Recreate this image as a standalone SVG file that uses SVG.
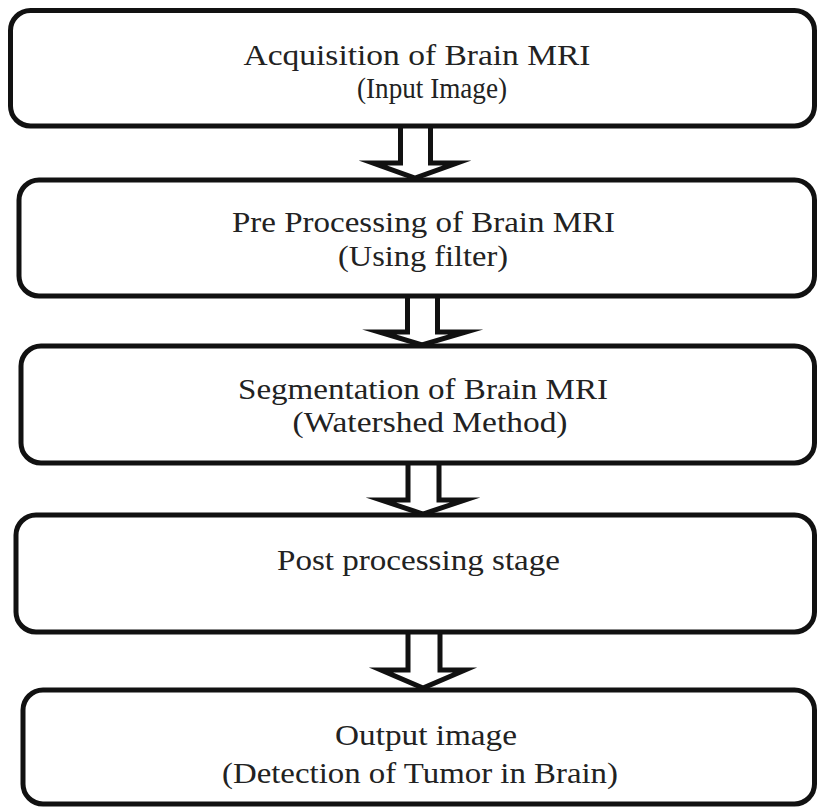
<svg xmlns="http://www.w3.org/2000/svg" width="818" height="807" viewBox="0 0 818 807">
  <style>
    .box { fill: none; stroke: #111; stroke-width: 5; }
    .arrow { fill: #fff; stroke: #111; stroke-width: 5; stroke-linejoin: miter; stroke-miterlimit: 10; }
    .t { font-family: "Liberation Serif", "Times New Roman", serif; font-size: 30px; fill: #222; text-anchor: middle; }
  </style>
  <rect x="0" y="0" width="818" height="807" fill="#fff"/>
  <g id="connectors">
    <path class="arrow" d="M400.5,127 V163 H373 L415,178 L457,163 H430.5 V127"/>
    <path class="arrow" d="M407.5,297 V332 H379 L422,345 L466,332 H437.5 V297"/>
    <path class="arrow" d="M408,464 V500 H381 L423,514 L465,500 H439 V464"/>
    <path class="arrow" d="M408,633 V670 H381 L423,688 L465,670 H440 V633"/>
  </g>
  <g id="node1">
    <rect class="box" x="10.5" y="10.5" width="804" height="115.5" rx="20"/>
    <text class="t" x="417" y="65" textLength="347" lengthAdjust="spacingAndGlyphs">Acquisition of Brain MRI</text>
    <text class="t" x="432" y="98" textLength="150" lengthAdjust="spacingAndGlyphs">(Input Image)</text>
  </g>
  <g id="node2">
    <rect class="box" x="19" y="180" width="795.5" height="116" rx="20"/>
    <text class="t" x="423.5" y="232" textLength="383" lengthAdjust="spacingAndGlyphs">Pre Processing of Brain MRI</text>
    <text class="t" x="423" y="265.5" textLength="170" lengthAdjust="spacingAndGlyphs">(Using filter)</text>
  </g>
  <g id="node3">
    <rect class="box" x="21" y="346" width="793.5" height="117" rx="20"/>
    <text class="t" x="423" y="398.5" textLength="370" lengthAdjust="spacingAndGlyphs">Segmentation of Brain MRI</text>
    <text class="t" x="430" y="431.5" textLength="275" lengthAdjust="spacingAndGlyphs">(Watershed Method)</text>
  </g>
  <g id="node4">
    <rect class="box" x="16" y="515" width="798.5" height="117" rx="20"/>
    <text class="t" x="418.5" y="570" textLength="283" lengthAdjust="spacingAndGlyphs">Post processing stage</text>
  </g>
  <g id="node5">
    <rect class="box" x="23" y="690" width="791.5" height="114" rx="20"/>
    <text class="t" x="426" y="745" textLength="182" lengthAdjust="spacingAndGlyphs">Output image</text>
    <text class="t" x="420" y="783" textLength="396" lengthAdjust="spacingAndGlyphs">(Detection of Tumor in Brain)</text>
  </g>
</svg>
